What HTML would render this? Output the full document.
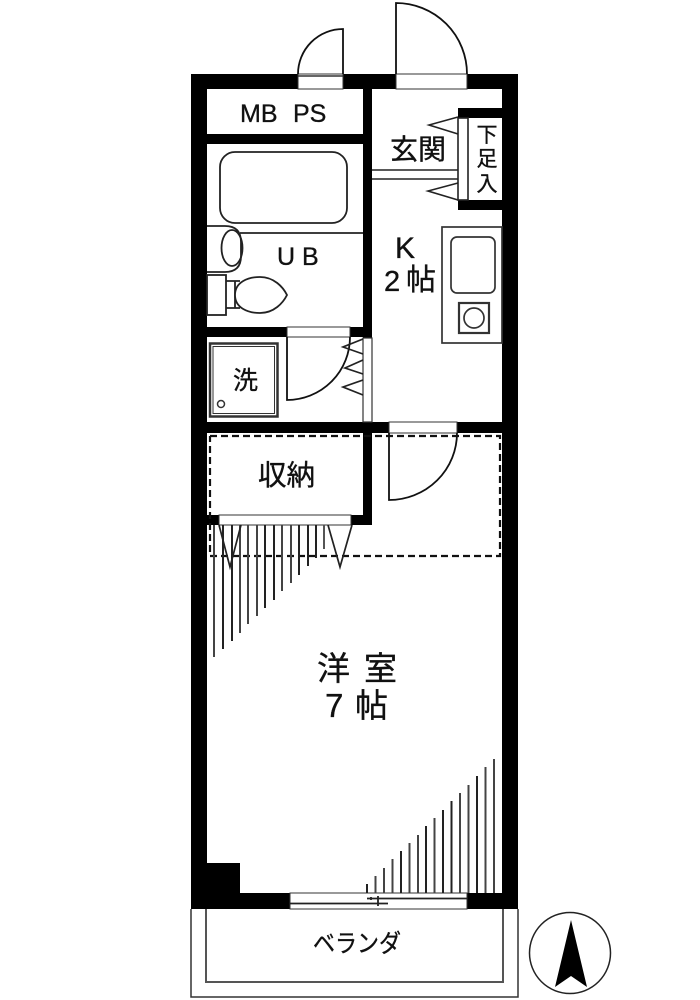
<!DOCTYPE html>
<html><head><meta charset="utf-8"><style>
html,body{margin:0;padding:0;background:#fff;width:700px;height:1000px;overflow:hidden}
svg{display:block}
text{font-family:"Liberation Sans","Noto Sans CJK JP",sans-serif;fill:#111;stroke:#111;stroke-width:.35px}
</style></head><body>
<svg width="700" height="1000" viewBox="0 0 700 1000" xmlns="http://www.w3.org/2000/svg">
<rect width="700" height="1000" fill="#fff"/>
<!-- outer walls -->
<g fill="#000">
<rect x="191" y="74" width="327" height="15"/>
<rect x="191" y="74" width="16" height="835"/>
<rect x="502" y="74" width="16" height="835"/>
<rect x="191" y="893" width="327" height="16"/>
<rect x="207" y="863" width="33" height="30"/>
<rect x="207" y="134" width="156" height="10"/>
<rect x="363" y="89" width="9" height="249"/>
<rect x="207" y="327" width="165" height="10"/>
<rect x="207" y="422" width="295" height="11"/>
<rect x="363" y="422" width="9" height="103"/>
<rect x="207" y="515" width="165" height="10"/>
<rect x="458" y="108" width="44" height="10"/>
<rect x="458" y="200" width="44" height="10"/>
</g>
<!-- openings -->
<g fill="#fff" stroke="#333" stroke-width="1">
<rect x="298" y="74" width="45" height="15"/>
<line x1="298" y1="76" x2="343" y2="76" stroke-width="1.5"/>
<rect x="396" y="74" width="71" height="15"/>
<rect x="287" y="327" width="63" height="10"/>
<rect x="389" y="422" width="68" height="11"/>
<rect x="219" y="515" width="132" height="10"/>
<rect x="290" y="893" width="177" height="16"/>
</g>
<rect x="363" y="338" width="9" height="84" fill="#fff" stroke="#333" stroke-width="1.2"/>
<!-- doors -->
<g fill="none" stroke="#111" stroke-width="1.8">
<path d="M343 74V29A45 45 0 0 0 298 74"/>
<path d="M396 74V3A71 71 0 0 1 467 74"/>
<path d="M287 337V400A63 63 0 0 0 350 337"/>
<path d="M389 433V500A68 67 0 0 0 457 433"/>
</g>
<!-- genkan -->
<g fill="none" stroke="#222" stroke-width="1.6">
<line x1="372" y1="170" x2="458" y2="170"/>
<line x1="372" y1="179" x2="458" y2="179"/>
<rect x="458" y="118" width="10" height="82"/>
<path d="M458 117L429 125L458 134"/>
<path d="M458 183L428 191L458 200"/>
</g>
<!-- bath -->
<g fill="none" stroke="#222" stroke-width="1.8">
<rect x="220" y="152" width="127" height="71" rx="15" ry="15"/>
<line x1="240" y1="233" x2="363" y2="233"/>
<path d="M207 226H225Q241 226 241 242V256Q241 272 225 272H207"/>
<ellipse cx="232" cy="248" rx="10.5" ry="18"/>
<rect x="207" y="275" width="19" height="40"/>
<path d="M226 281H240M226 308H240"/>
<line x1="235" y1="281" x2="235" y2="308"/>
<path d="M235 295C235 282 248 277 260 277C274 277 283 287 287 295C283 303 274 313 260 313C248 313 235 308 235 295Z" fill="#fff"/>
</g>
<!-- washer -->
<g fill="none" stroke="#333">
<rect x="210" y="343.500" width="67.500" height="73" stroke-width="2.500"/>
<rect x="213" y="346.500" width="61.500" height="67" stroke-width="1"/>
<circle cx="221" cy="404" r="3.500" stroke-width="1.500"/>
</g>
<!-- laundry side triangles -->
<g fill="none" stroke="#222" stroke-width="1.7">
<path d="M363 339L343 347L363 354"/>
<path d="M363 360L345 368L363 374"/>
<path d="M363 380L343 387L363 395"/>
</g>
<!-- kitchen -->
<g fill="none" stroke="#333" stroke-width="1.7">
<rect x="442" y="227" width="60" height="116"/>
<rect x="451" y="237" width="44" height="56" rx="6" ry="6"/>
<rect x="459" y="303" width="30" height="30" stroke-width="2.200"/>
<circle cx="474" cy="318" r="10"/>
</g>
<!-- dashed loft -->
<g stroke="#111" stroke-width="2.200" stroke-dasharray="7 4" fill="none">
<path d="M210 436H500V556H210V436"/>
</g>
<!-- stairs hatching top -->
<g stroke="#222" stroke-width="2">
<line x1="214" y1="525" x2="214" y2="657" stroke="#444"/>
<line x1="223" y1="525" x2="223" y2="649"/>
<line x1="232" y1="525" x2="232" y2="641"/>
<line x1="240" y1="525" x2="240" y2="633" stroke="#444"/>
<line x1="248" y1="525" x2="248" y2="624" stroke="#444"/>
<line x1="257" y1="525" x2="257" y2="616" stroke="#444"/>
<line x1="265" y1="525" x2="265" y2="608"/>
<line x1="274" y1="525" x2="274" y2="600"/>
<line x1="282" y1="525" x2="282" y2="591" stroke="#444"/>
<line x1="291" y1="525" x2="291" y2="583" stroke="#444"/>
<line x1="299" y1="525" x2="299" y2="575"/>
<line x1="308" y1="525" x2="308" y2="566"/>
<line x1="316" y1="525" x2="316" y2="558"/>
<line x1="324" y1="525" x2="324" y2="549" stroke="#555"/>
</g>
<g fill="none" stroke="#222" stroke-width="1.700">
<path d="M219 525L230 567L241 525"/>
<path d="M328 525L340 567L352 525"/>
</g>
<!-- stairs hatching bottom -->
<g stroke="#222" stroke-width="2">
<line x1="367" y1="884" x2="367" y2="893"/>
<line x1="375.500" y1="876" x2="375.500" y2="893" stroke="#444"/>
<line x1="384" y1="868" x2="384" y2="893" stroke="#444"/>
<line x1="392.500" y1="859" x2="392.500" y2="893" stroke="#444"/>
<line x1="401" y1="851" x2="401" y2="893"/>
<line x1="409.500" y1="843" x2="409.500" y2="893" stroke="#444"/>
<line x1="418" y1="835" x2="418" y2="893" stroke="#444"/>
<line x1="426" y1="826" x2="426" y2="893"/>
<line x1="434.500" y1="818" x2="434.500" y2="893" stroke="#444"/>
<line x1="443" y1="810" x2="443" y2="893"/>
<line x1="451.500" y1="801" x2="451.500" y2="893"/>
<line x1="460" y1="793" x2="460" y2="893" stroke="#444"/>
<line x1="468.500" y1="785" x2="468.500" y2="893" stroke="#444"/>
<line x1="477" y1="776" x2="477" y2="893"/>
<line x1="485.500" y1="767" x2="485.500" y2="893" stroke="#444"/>
<line x1="494" y1="759" x2="494" y2="893" stroke="#444"/>
</g>
<!-- window -->
<g stroke="#222" stroke-width="1.800">
<line x1="367" y1="898.500" x2="467" y2="898.500"/>
<line x1="290" y1="903.500" x2="388" y2="903.500"/>
<line x1="378" y1="896" x2="378" y2="906"/>
<line x1="371" y1="897" x2="371" y2="900"/>
</g>
<!-- balcony -->
<g fill="none">
<path d="M191 909V997H518V909" stroke="#333" stroke-width="1.500"/>
<path d="M206 909V982H503V909" stroke="#555" stroke-width="2"/>
</g>
<!-- compass -->
<circle cx="570" cy="953" r="40.500" fill="none" stroke="#222" stroke-width="1.500"/>
<path d="M571 920L587 987L571 976L555 987Z" fill="#000"/>
<!-- text -->
<text x="240" y="122" font-size="25">MB</text>
<text x="293" y="122" font-size="25">PS</text>
<text x="390" y="159" font-size="28">玄関</text>
<text x="487" y="142" font-size="21" text-anchor="middle">下</text>
<text x="487" y="166" font-size="21" text-anchor="middle">足</text>
<text x="487" y="191" font-size="21" text-anchor="middle">入</text>
<text x="395" y="258" font-size="30">K</text>
<text x="384" y="291" font-size="29">2</text>
<text x="406" y="290" font-size="30">帖</text>
<text x="277" y="265" font-size="25">U</text>
<text x="302" y="265" font-size="25">B</text>
<text x="245.500" y="389" font-size="25" text-anchor="middle">洗</text>
<text x="258" y="485" font-size="28.500">収納</text>
<text x="317" y="680" font-size="33">洋</text>
<text x="364" y="680" font-size="33">室</text>
<text x="325" y="717" font-size="33">7</text>
<text x="355" y="717" font-size="33">帖</text>
<text x="313" y="952" font-size="25" textLength="88" lengthAdjust="spacingAndGlyphs">ベランダ</text>
</svg>
</body></html>
